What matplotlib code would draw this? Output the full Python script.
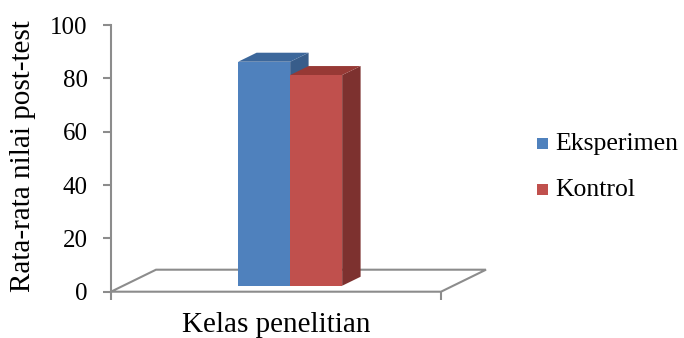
import matplotlib.pyplot as plt
from matplotlib.patches import Polygon, Rectangle

categories = ["Kelas penelitian"]
series = ["Eksperimen", "Kontrol"]
values = [84, 79]
y_ticks = [0, 20, 40, 60, 80, 100]

front_colors = ["#4f81bd", "#c0504d"]
top_colors = ["#3c679b", "#973935"]
side_colors = ["#385d8a", "#7d312f"]
gray = "#8c8c8c"

plt.rcParams["font.family"] = ["Liberation Serif", "DejaVu Serif"]

fig = plt.figure(figsize=(6.84, 3.38), dpi=100)
W, H = 684, 338
# axes placed so that one x unit is one pixel
ax = fig.add_axes([111 / W, (H - 291.7) / H, 380 / W, 266.7 / H])
ax.set_xlim(0, 380)
ax.set_ylim(0, 100)

px_per_unit = 266.7 / 100
floor_w = 330
depth_dx, depth_dy = 45, 22 / px_per_unit

# floor of the 3D plot area
floor = Polygon([(0, 0), (floor_w, 0), (floor_w + depth_dx, depth_dy),
                 (depth_dx, depth_dy)], closed=True, facecolor="white",
                edgecolor=gray, lw=1.5, clip_on=False, zorder=1)
ax.add_patch(floor)

# bars sit part way into the depth
f0, f1 = 0.27, 0.68
ox0, oy0 = f0 * depth_dx, f0 * depth_dy
ox1, oy1 = f1 * depth_dx, f1 * depth_dy
bar_w = 52
x_start = floor_w / 2 + ox0 - bar_w * len(values) / 2 + 2

for i, v in enumerate(values):
    x0 = x_start + i * bar_w
    x1 = x0 + bar_w
    b, t = oy0, oy0 + v
    dx, dy = ox1 - ox0, oy1 - oy0
    side = Polygon([(x1, b), (x1 + dx, b + dy), (x1 + dx, t + dy), (x1, t)],
                   closed=True, facecolor=side_colors[i], edgecolor="none",
                   clip_on=False, zorder=2 + i)
    top = Polygon([(x0, t), (x1, t), (x1 + dx, t + dy), (x0 + dx, t + dy)],
                  closed=True, facecolor=top_colors[i], edgecolor="none",
                  clip_on=False, zorder=2 + i)
    front = Rectangle((x0, b), bar_w, v, facecolor=front_colors[i],
                      edgecolor="none", clip_on=False, zorder=2 + i)
    ax.add_patch(side)
    ax.add_patch(top)
    ax.add_patch(front)

for s in ["top", "right", "bottom"]:
    ax.spines[s].set_visible(False)
ax.spines["left"].set_color(gray)
ax.spines["left"].set_linewidth(1.5)

ax.set_yticks(y_ticks)
ax.tick_params(axis="y", direction="out", length=5.8, width=1.5, color=gray,
               labelsize=18, pad=11)
ax.set_xticks([0, floor_w])
ax.set_xticklabels([])
ax.tick_params(axis="x", direction="out", length=6, width=1.5, color=gray)

fig.text(23 / W, 1 - 156 / H, "Rata-rata nilai post-test", rotation=90,
         ha="center", va="center", fontsize=21)
fig.text(276 / W, 1 - 332 / H, categories[0], ha="center", va="baseline",
         fontsize=21)

# legend
legend_y = [150, 196]
for i, name in enumerate(series):
    fig.add_artist(Rectangle((537 / W, 1 - (legend_y[i] - 1) / H), 11 / W, 11 / H,
                             transform=fig.transFigure, facecolor=front_colors[i],
                             edgecolor="none"))
    fig.text(555 / W, 1 - legend_y[i] / H, name, ha="left", va="baseline",
             fontsize=18.5)

fig.savefig("out.png", dpi=100)
